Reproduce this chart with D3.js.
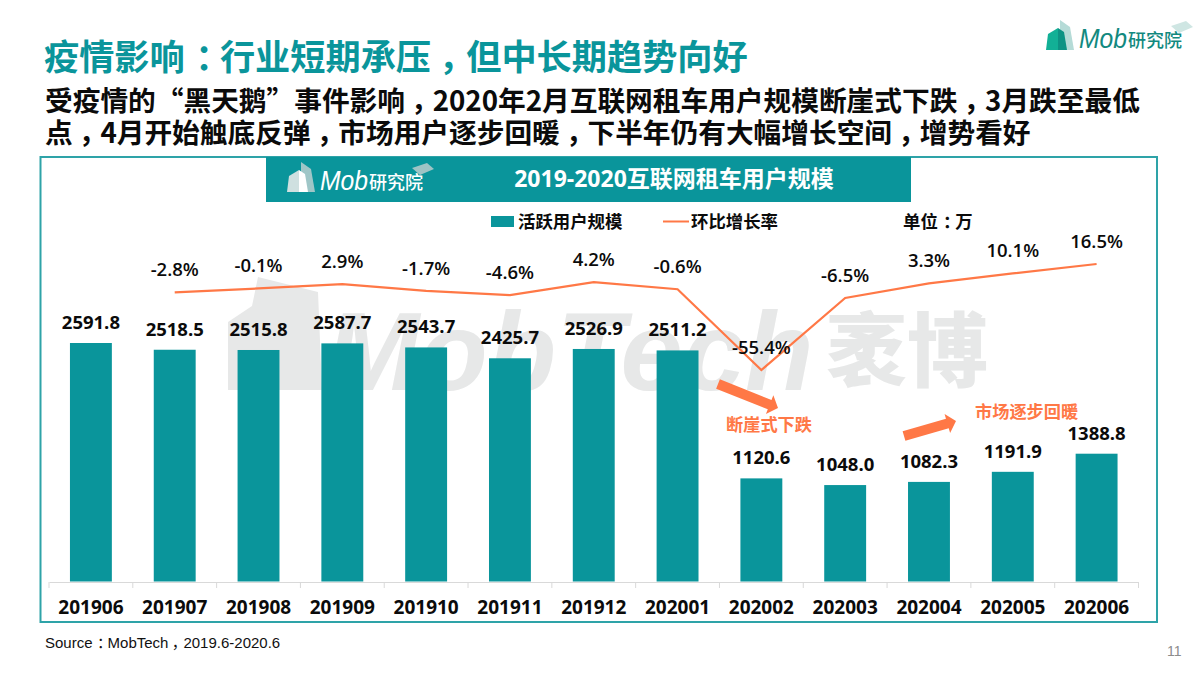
<!DOCTYPE html>
<html>
<head>
<meta charset="utf-8">
<script src="https://cdnjs.cloudflare.com/ajax/libs/d3/7.8.5/d3.min.js"></script>
<style>
  html, body { margin: 0; padding: 0; background: #fff; }
  svg { display: block; }
  text { font-family: "Open Sans", "Noto Sans CJK SC", sans-serif; }
  .cjk { font-family: "Noto Sans CJK SC", sans-serif; }
</style>
</head>
<body>
<svg width="1200" height="675"></svg>
<script>
const months = ['201906','201907','201908','201909','201910','201911','201912','202001','202002','202003','202004','202005','202006']
const users = [2591.8,2518.5,2515.8,2587.7,2543.7,2425.7,2526.9,2511.2,1120.6,1048.0,1082.3,1191.9,1388.8]
const growth = [-2.8,-0.1,2.9,-1.7,-4.6,4.2,-0.6,-55.4,-6.5,3.3,10.1,16.5]
const growthLabels = ['-2.8%','-0.1%','2.9%','-1.7%','-4.6%','4.2%','-0.6%','-55.4%','-6.5%','3.3%','10.1%','16.5%']

const teal = '#0a959b', orange = '#ff7846', ink = '#0b0b0b'
const svg = d3.select('svg')

// plot scales
const x = d3.scaleBand().domain(months).range([49, 1138.5]).paddingInner(0.5).paddingOuter(0.25)
const y = d3.scaleLinear().domain([0, 2591.8]).range([581.5, 343])
const yRate = d3.scaleLinear().domain([-55.4, 16.5]).range([370, 264])
const cx = m => x(m) + x.bandwidth() / 2

// the source font centres its full width punctuation, so nudge it over
const punctText = (sel, str) => {
    let shift = null
    str.split(/([：，])/).filter(s => s).forEach(part => {
        const isPunct = part === '：' || part === '，'
        const amount = part === '：' ? 0.3 : 0.22
        const t = sel.append('tspan').text(part)
        if (isPunct) t.attr('dx', amount + 'em')
        else if (shift) t.attr('dx', -shift + 'em')
        shift = isPunct ? amount : null
    })
}

// headline
svg.append('text').attr('class', 'cjk').attr('x', 44).attr('y', 70)
    .attr('font-size', 35.2).attr('font-weight', 700).attr('fill', teal)
    .call(punctText, '疫情影响：行业短期承压，但中长期趋势向好')
const subLines = [
    '受疫情的“黑天鹅”事件影响，2020年2月互联网租车用户规模断崖式下跌，3月跌至最低',
    '点，4月开始触底反弹，市场用户逐步回暖，下半年仍有大幅增长空间，增势看好'
]
subLines.forEach((s, i) => {
    svg.append('text').attr('class', 'cjk').attr('x', 45).attr('y', 111 + i * 32)
        .attr('font-size', 27.7).attr('font-weight', 700).attr('fill', ink)
        .call(punctText, s)
})

// panel frame
svg.append('rect').attr('x', 40.5).attr('y', 157).attr('width', 1116.5).attr('height', 465)
    .attr('fill', 'none').attr('stroke', '#2ea3a8').attr('stroke-width', 2)

// watermark, sits behind everything in the plot
const wm = svg.append('g').attr('fill', '#e7e8e8')
wm.append('path').attr('d', 'M228,322 L252,306 L258,277 L318,292 L322,390 L228,390 Z')
wm.append('text').attr('x', 326).attr('y', 390).attr('font-size', 112).attr('font-weight', 700)
    .attr('font-style', 'italic').style('font-family', '"Liberation Sans"').text('MobTech')
wm.append('text').attr('class', 'cjk').attr('x', 826).attr('y', 380).attr('font-size', 81)
    .attr('font-weight', 900).text('袤博')

// chart title band
svg.append('rect').attr('x', 266).attr('y', 157).attr('width', 645).attr('height', 45).attr('fill', teal)
svg.append('text').attr('x', 674).attr('y', 187).attr('text-anchor', 'middle')
    .attr('font-size', 23).attr('font-weight', 700).attr('fill', '#fff')
    .text('2019-2020互联网租车用户规模')

const drawLogo = (g, frontFill, midFill, backFill, capFill, wordFill) => {
    g.append('path').attr('d', 'M14,0 L24,7 L28,30 L14,30 Z').attr('fill', backFill)
    g.append('path').attr('d', 'M0,30 L2,14 L12,8 L12,30 Z').attr('fill', frontFill)
    g.append('path').attr('d', 'M12,8 L18,12 L21,30 L12,30 Z').attr('fill', midFill)
    g.append('path').attr('d', 'M125,6 L140,1 L147,7 L133,13 Z').attr('fill', capFill)
    g.append('text').attr('x', 33).attr('y', 28).attr('font-size', 27)
        .attr('textLength', 48).attr('lengthAdjust', 'spacingAndGlyphs')
        .attr('font-style', 'italic').attr('fill', wordFill)
        .style('font-family', '"Liberation Sans"').text('Mob')
    g.append('text').attr('class', 'cjk').attr('x', 82).attr('y', 27).attr('font-size', 18)
        .attr('font-weight', 500).attr('fill', wordFill).text('研究院')
}
drawLogo(svg.append('g').attr('transform', 'translate(1046,20)'), '#12b096', '#0d9384', '#b5dbd7', '#cfe6e3', '#12897f')
drawLogo(svg.append('g').attr('transform', 'translate(287,162)'), '#cfe0e0', '#ffffff', '#9fc6c7', '#9ec4c5', '#ffffff')

// legend
svg.append('rect').attr('x', 491).attr('y', 216).attr('width', 23).attr('height', 11).attr('fill', teal)
svg.append('line').attr('x1', 663).attr('x2', 689).attr('y1', 221.5).attr('y2', 221.5)
    .attr('stroke', orange).attr('stroke-width', 2)
const legendText = [['活跃用户规模', 518], ['环比增长率', 691], ['单位：万', 903]]
legendText.forEach(d => {
    svg.append('text').attr('class', 'cjk').attr('x', d[1]).attr('y', 228)
        .attr('font-size', 17.4).attr('font-weight', 700).attr('fill', ink)
        .call(punctText, d[0])
})

// bars
svg.selectAll('.bar').data(months).join('rect')
    .attr('class', 'bar')
    .attr('x', d => x(d))
    .attr('width', x.bandwidth())
    .attr('y', (d, i) => y(users[i]))
    .attr('height', (d, i) => y(0) - y(users[i]))
    .attr('fill', teal)

svg.selectAll('.barlabel').data(months).join('text')
    .attr('class', 'barlabel')
    .attr('x', d => cx(d))
    .attr('y', (d, i) => y(users[i]) - 14)
    .attr('text-anchor', 'middle')
    .attr('font-size', 18.5).attr('font-weight', 700).attr('fill', ink)
    .text((d, i) => users[i].toFixed(1))

// x axis
const xAxis = svg.append('g').attr('transform', 'translate(0,582)')
    .call(d3.axisBottom(x).tickSize(0).tickPadding(19))
xAxis.select('.domain').attr('stroke', '#d9d9d9')
xAxis.selectAll('text').attr('font-size', 19).attr('font-weight', 700).attr('fill', ink)
    .style('font-family', '"Open Sans"')
xAxis.selectAll('.sep').data([...months.map(m => x(m) - x.step() * 0.25), 1138.5]).join('line')
    .attr('class', 'sep').attr('x1', d => d).attr('x2', d => d).attr('y1', 0).attr('y2', 6)
    .attr('stroke', '#d9d9d9')

// growth line
const rateMonths = months.slice(1)
const line = d3.line().x(d => cx(d)).y((d, i) => yRate(growth[i]))
svg.append('path').datum(rateMonths).attr('d', line)
    .attr('fill', 'none').attr('stroke', orange).attr('stroke-width', 2.2)

svg.selectAll('.ratelabel').data(rateMonths).join('text')
    .attr('class', 'ratelabel')
    .attr('x', d => cx(d))
    .attr('y', (d, i) => yRate(growth[i]) - 16)
    .attr('text-anchor', 'middle')
    .attr('font-size', 18.5).attr('font-weight', 600).attr('fill', ink)
    .text((d, i) => growthLabels[i])

// callout arrows
const arrow = (x1, y1, x2, y2) => {
    const a = Math.atan2(y2 - y1, x2 - x1) * 180 / Math.PI
    const len = Math.hypot(x2 - x1, y2 - y1)
    svg.append('path')
        .attr('d', `M0,-5 L${len - 9},-5 L${len - 9},-10 L${len},0 L${len - 9},10 L${len - 9},5 L0,5 Z`)
        .attr('transform', `translate(${x1},${y1}) rotate(${a})`)
        .attr('fill', orange)
}
arrow(718, 384, 778, 408)
arrow(904, 436, 956, 421)
const callouts = [['断崖式下跌', 726, 431], ['市场逐步回暖', 975, 418]]
svg.selectAll('.callout').data(callouts).join('text')
    .attr('class', 'cjk callout').attr('x', d => d[1]).attr('y', d => d[2])
    .attr('font-size', 17.2).attr('font-weight', 700).attr('fill', orange)
    .text(d => d[0])

// footer
svg.append('text').attr('x', 45).attr('y', 648).attr('font-size', 15).attr('fill', '#111')
    .style('font-family', '"Liberation Sans", "Noto Sans CJK SC"')
    .call(punctText, 'Source：MobTech，2019.6-2020.6')
svg.append('text').attr('x', 1167).attr('y', 656).attr('font-size', 14).attr('fill', '#8c8c8c')
    .style('font-family', '"Liberation Sans"').text('11')
</script>
</body>
</html>
